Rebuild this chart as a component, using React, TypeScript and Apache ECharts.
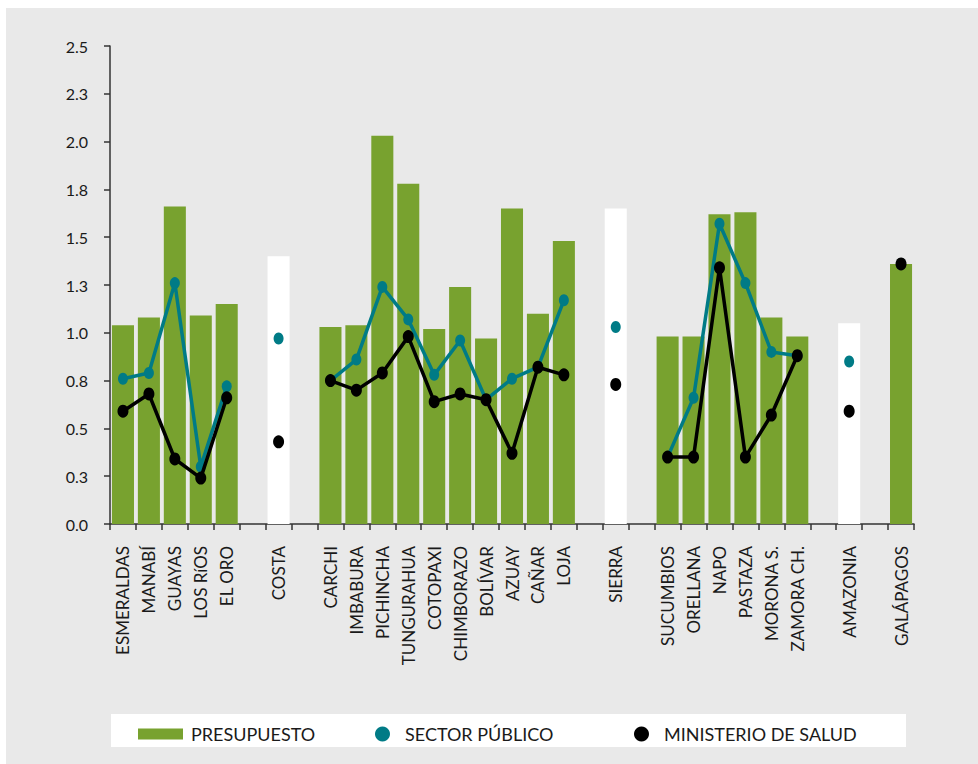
import React, { useEffect, useRef } from "react";
import * as echarts from "echarts";

const categories = [
  "ESMERALDAS", "MANABÍ", "GUAYAS", "LOS RíOS", "EL ORO", " ",
  "COSTA", "  ",
  "CARCHI", "IMBABURA", "PICHINCHA", "TUNGURAHUA", "COTOPAXI", "CHIMBORAZO",
  "BOLÍVAR", "AZUAY", "CAÑAR", "LOJA", "   ",
  "SIERRA", "    ",
  "SUCUMBIOS", "ORELLANA", "NAPO", "PASTAZA", "MORONA S.", "ZAMORA CH.", "     ",
  "AMAZONIA", "      ",
  "GALÁPAGOS",
];

const regions = ["COSTA", "SIERRA", "AMAZONIA"];

const presupuesto = [
  1.04, 1.08, 1.66, 1.09, 1.15, null,
  1.40, null,
  1.03, 1.04, 2.03, 1.78, 1.02, 1.24, 0.97, 1.65, 1.10, 1.48, null,
  1.65, null,
  0.98, 0.98, 1.62, 1.63, 1.08, 0.98, null,
  1.05, null,
  1.36,
];

const sectorPublico = [
  0.76, 0.79, 1.26, 0.30, 0.72, null,
  0.97, null,
  0.75, 0.86, 1.24, 1.07, 0.78, 0.96, 0.65, 0.76, 0.82, 1.17, null,
  1.03, null,
  0.35, 0.66, 1.57, 1.26, 0.90, 0.88, null,
  0.85, null,
  1.36,
];

const ministerioSalud = [
  0.59, 0.68, 0.34, 0.24, 0.66, null,
  0.43, null,
  0.75, 0.70, 0.79, 0.98, 0.64, 0.68, 0.65, 0.37, 0.82, 0.78, null,
  0.73, null,
  0.35, 0.35, 1.34, 0.35, 0.57, 0.88, null,
  0.59, null,
  1.36,
];

const GREEN = "#78a22f";
const TEAL = "#007b86";
const BLACK = "#000000";
const TEXT = "#1a1a1a";
const FONT = "Lato";

export default function App() {
  const ref = useRef<HTMLDivElement>(null);

  useEffect(() => {
    if (!ref.current) return;
    const chart = echarts.init(ref.current, undefined, { renderer: "svg" });

    const legendText = { color: TEXT, fontFamily: FONT, fontSize: 18 };

    chart.setOption({
      animation: false,
      backgroundColor: "#e9e9e9",
      grid: { left: 104, right: 64, top: 38, bottom: 240, containLabel: false },
      graphic: [
        {
          type: "rect",
          z: 0,
          shape: { x: 105, y: 706, width: 795, height: 33 },
          style: { fill: "#ffffff" },
          silent: true,
        },
      ],
      legend: [
        {
          data: ["PRESUPUESTO"],
          left: 127,
          top: 712,
          icon: "rect",
          itemWidth: 45,
          itemHeight: 11,
          selectedMode: false,
          textStyle: { ...legendText, padding: [0, 0, 0, 3] },
        },
        {
          data: ["SECTOR PÚBLICO"],
          left: 364,
          top: 712,
          icon: "circle",
          itemWidth: 15,
          itemHeight: 15,
          selectedMode: false,
          textStyle: { ...legendText, padding: [0, 0, 0, 10] },
        },
        {
          data: ["MINISTERIO DE SALUD"],
          left: 623,
          top: 712,
          icon: "circle",
          itemWidth: 15,
          itemHeight: 15,
          selectedMode: false,
          textStyle: { ...legendText, padding: [0, 0, 0, 10] },
        },
      ],
      xAxis: {
        type: "category",
        data: categories,
        boundaryGap: true,
        axisLine: { show: true, lineStyle: { color: "#333", width: 1.5 } },
        axisTick: { show: true, interval: 0, length: 6, lineStyle: { color: "#333", width: 1.5 } },
        axisLabel: {
          interval: 0,
          rotate: 90,
          margin: 22,
          fontSize: 17,
          fontFamily: FONT,
          color: TEXT,
        },
        splitLine: { show: false },
      },
      yAxis: {
        type: "value",
        min: 0,
        max: 2.5,
        interval: 0.25,
        axisLine: { show: true, lineStyle: { color: "#333", width: 1.5 } },
        axisTick: { show: true, length: 6, lineStyle: { color: "#333", width: 1.5 } },
        splitLine: { show: false },
        axisLabel: {
          formatter: (v: number) => v.toFixed(1),
          margin: 22,
          fontSize: 16,
          fontFamily: FONT,
          color: TEXT,
        },
      },
      series: [
        {
          name: "PRESUPUESTO",
          type: "bar",
          barCategoryGap: "15%",
          itemStyle: { color: GREEN },
          z: 1,
          data: presupuesto.map((v, i) =>
            v == null
              ? null
              : regions.includes(categories[i])
              ? { value: v, itemStyle: { color: "#ffffff" } }
              : v
          ),
        },
        {
          name: "SECTOR PÚBLICO",
          type: "line",
          data: sectorPublico,
          connectNulls: false,
          symbol: "circle",
          symbolSize: [10, 12],
          showAllSymbol: true,
          lineStyle: { color: TEAL, width: 3.5 },
          itemStyle: { color: TEAL },
          z: 3,
        },
        {
          name: "MINISTERIO DE SALUD",
          type: "line",
          data: ministerioSalud,
          connectNulls: false,
          symbol: "circle",
          symbolSize: [11, 13],
          showAllSymbol: true,
          lineStyle: { color: BLACK, width: 3.5 },
          itemStyle: { color: BLACK },
          z: 4,
        },
      ],
    });

    return () => chart.dispose();
  }, []);

  return (
    <div
      ref={ref}
      style={{ position: "absolute", left: 6, top: 8, width: 972, height: 756 }}
    />
  );
}
